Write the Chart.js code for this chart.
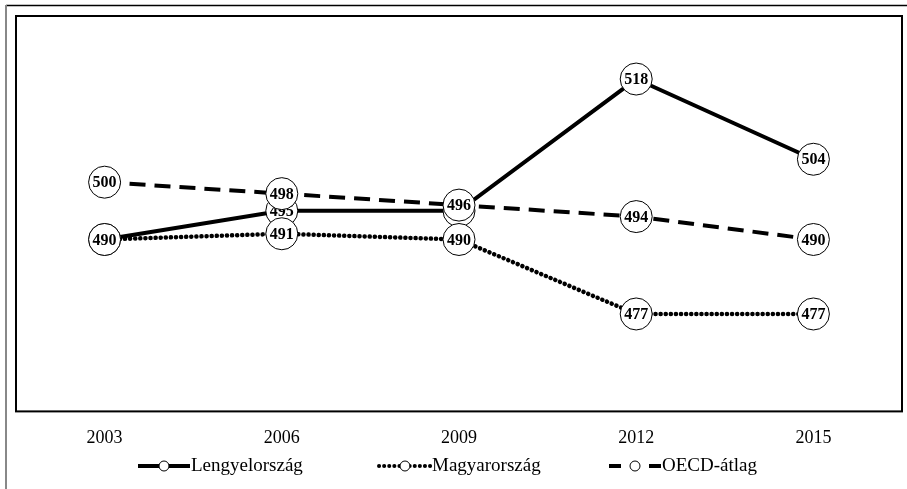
<!DOCTYPE html>
<html>
<head>
<meta charset="utf-8">
<script src="https://cdn.jsdelivr.net/npm/chart.js@4.4.0/dist/chart.umd.min.js"></script>
<style>
  html, body { margin: 0; padding: 0; background: #fff; }
  #wrap { width: 907px; height: 489px; position: relative; }
</style>
</head>
<body>
<div id="wrap"><canvas id="chart" width="907" height="489"></canvas></div>
<script>
// years on the x axis
const years = ['2003', '2006', '2009', '2012', '2015'];

// PISA-like scores
const lengyel = [490, 495, 495, 518, 504];
const magyar = [490, 491, 490, 477, 477];
const oecd = [500, 498, 496, 494, 490];

const seriesNames = ['Lengyelország', 'Magyarország', 'OECD-átlag'];

const serif = "'Liberation Serif', 'DejaVu Serif', serif";

// frame, plot box, circle labels and legend
const decor = {
    id: 'decor',
    beforeDraw(chart) {
        const ctx = chart.ctx;
        ctx.save();
        ctx.fillStyle = '#fff';
        ctx.fillRect(0, 0, chart.width, chart.height);
        ctx.strokeStyle = '#000';
        ctx.lineWidth = 1.5;
        ctx.beginPath();
        ctx.moveTo(6, 5.5);
        ctx.lineTo(chart.width, 5.5);
        ctx.stroke();
        ctx.strokeStyle = '#888';
        ctx.lineWidth = 2;
        ctx.beginPath();
        ctx.moveTo(6, 5);
        ctx.lineTo(6, chart.height);
        ctx.stroke();
        ctx.restore();
    },
    afterDatasetsDraw(chart) {
        const ctx = chart.ctx;
        const a = chart.chartArea;
        ctx.save();
        ctx.strokeStyle = '#000';
        ctx.lineWidth = 2;
        ctx.strokeRect(a.left, a.top, a.right - a.left, a.bottom - a.top);

        chart.data.datasets.forEach((ds, di) => {
            const meta = chart.getDatasetMeta(di);
            meta.data.forEach((pt, i) => {
                ctx.beginPath();
                ctx.arc(pt.x, pt.y, 16, 0, Math.PI * 2);
                ctx.fillStyle = '#fff';
                ctx.fill();
                ctx.lineWidth = 1;
                ctx.strokeStyle = '#000';
                ctx.stroke();
                ctx.fillStyle = '#000';
                ctx.font = 'bold 16px ' + serif;
                ctx.textAlign = 'center';
                ctx.textBaseline = 'middle';
                ctx.fillText(ds.data[i], pt.x, pt.y + 1);
            });
        });

        // legend
        const ly = 466;
        const starts = [138, 379, 609];
        chart.data.datasets.forEach((ds, di) => {
            const x0 = starts[di];
            const x1 = x0 + 52;
            ctx.strokeStyle = '#000';
            ctx.lineWidth = 4;
            ctx.lineCap = ds.borderCapStyle || 'butt';
            ctx.setLineDash(ds.borderDash && di === 1 ? [0.1, 5] : []);
            ctx.beginPath();
            if (di === 2) {
                ctx.moveTo(x0, ly); ctx.lineTo(x0 + 12, ly);
                ctx.moveTo(x1 - 12, ly); ctx.lineTo(x1, ly);
            } else {
                ctx.moveTo(x0, ly); ctx.lineTo(x1, ly);
            }
            ctx.stroke();
            ctx.setLineDash([]);
            ctx.beginPath();
            ctx.arc((x0 + x1) / 2, ly, 5, 0, Math.PI * 2);
            ctx.fillStyle = '#fff';
            ctx.fill();
            ctx.lineWidth = 1;
            ctx.stroke();
            ctx.fillStyle = '#000';
            ctx.font = '19px ' + serif;
            ctx.textAlign = 'left';
            ctx.textBaseline = 'middle';
            ctx.fillText(ds.label, x1 + 1, ly);
        });
        ctx.restore();
    }
};

const ctxChart = document.querySelector('#chart').getContext('2d');

const config = {
    type: 'line',
    data: {
        labels: years,
        datasets: [{
            label: seriesNames[0],
            data: lengyel,
            borderColor: '#000',
            borderWidth: 4,
            pointRadius: 0,
            tension: 0
        }, {
            label: seriesNames[1],
            data: magyar,
            borderColor: '#000',
            borderWidth: 4.5,
            borderDash: [0.1, 5],
            borderCapStyle: 'round',
            pointRadius: 0,
            tension: 0
        }, {
            label: seriesNames[2],
            data: oecd,
            borderColor: '#000',
            borderWidth: 4,
            borderDash: [16, 9],
            pointRadius: 0,
            tension: 0
        }]
    },
    options: {
        responsive: false,
        animation: false,
        layout: {
            padding: { left: 16, top: 16, right: 5, bottom: 24 }
        },
        plugins: {
            legend: { display: false },
            tooltip: { enabled: false }
        },
        scales: {
            x: {
                offset: true,
                grid: { display: false, drawTicks: false },
                border: { display: false },
                ticks: {
                    color: '#000',
                    padding: 16,
                    font: { family: serif, size: 18 }
                }
            },
            y: {
                display: false,
                min: 460,
                max: 529
            }
        }
    },
    plugins: [decor]
};

new Chart(ctxChart, config);
</script>
</body>
</html>
